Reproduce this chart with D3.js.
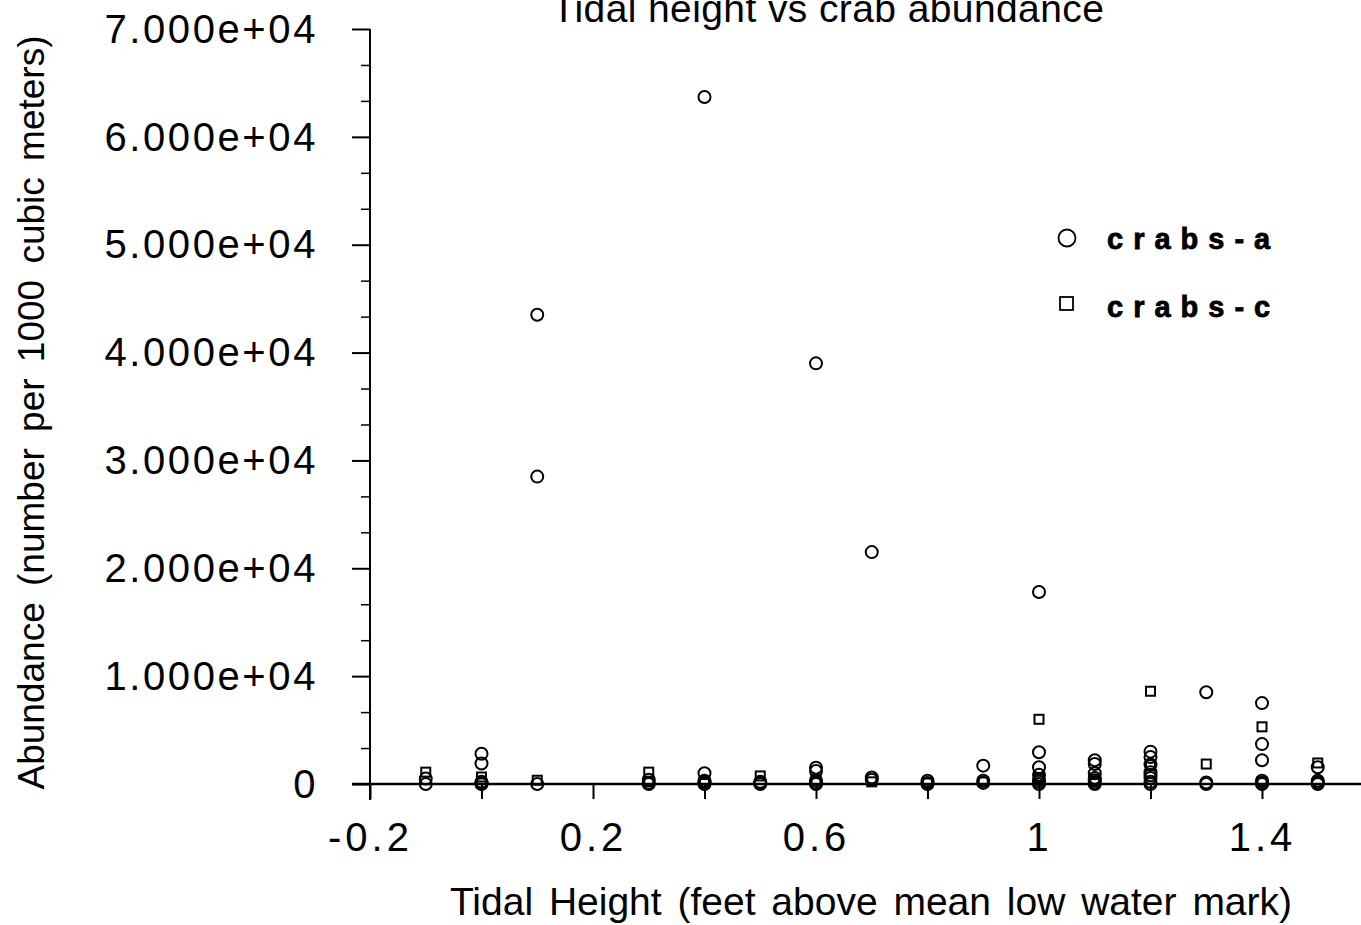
<!DOCTYPE html>
<html><head><meta charset="utf-8">
<script src="https://cdn.jsdelivr.net/npm/d3@7"></script>
<style>
html,body{margin:0;padding:0;background:#fff;}
svg{display:block;}
text{font-family:"Liberation Sans",Arial,Helvetica,sans-serif;fill:#000;}
</style></head>
<body>
<svg id="chart" width="1361" height="925"></svg>
<script>
// ---- data ----
const title = "Tidal height vs crab abundance";
const xTitle = "Tidal Height (feet above mean low water mark)";
const yTitle = "Abundance (number per 1000 cubic meters)";
const seriesNames = ["crabs-a", "crabs-c"];

const crabsAX = [-0.1,-0.1, 0,0,0,0,0,0, 0.1,0.1,0.1, 0.3,0.3,0.3, 0.4,0.4,0.4,0.4,0.4,0.4, 0.5,0.5,0.5,
  0.6,0.6,0.6,0.6,0.6,0.6, 0.7,0.7,0.7, 0.8,0.8,0.8, 0.9,0.9,0.9, 1,1,1,1,1,1,1, 1.1,1.1,1.1,1.1,1.1,1.1,1.1,
  1.2,1.2,1.2,1.2,1.2,1.2,1.2,1.2, 1.3,1.3,1.3, 1.4,1.4,1.4,1.4,1.4,1.4, 1.5,1.5,1.5,1.5];
const crabsAY = [500,0, 2800,1900,200,100,50,0, 43500,28500,0, 400,100,0, 63700,1000,300,200,100,0, 200,100,0,
  39000,1500,1200,300,100,0, 21500,600,400, 300,100,0, 1700,300,100, 17800,2950,1550,850,400,200,0, 2200,1850,1000,550,350,150,0,
  3000,2500,1800,1100,800,550,200,0, 8500,150,0, 7500,3700,2200,300,100,0, 1550,300,150,0];

const crabsCX = [-0.1, 0,0, 0.1, 0.3,0.3, 0.4, 0.5, 0.6, 0.7, 0.8, 0.9, 1,1, 1.1, 1.2,1.2, 1.3, 1.4,1.4, 1.5];
const crabsCY = [1100, 650,100, 350, 1100,200, 100, 750, 400, 200, 100, 200, 6000,600, 300, 8600,1800, 1850, 5300,200, 1950];

const yMajorTicks = [0,10000,20000,30000,40000,50000,60000,70000];
const xTicks = [-0.2,0,0.2,0.4,0.6,0.8,1,1.2,1.4];
const xLabelled = [-0.2,0.2,0.6,1,1.4];

// ---- layout ----
const W = 1361, H = 925;
const svg = d3.select("#chart");
const x = d3.scaleLinear().domain([-0.2, 1.6]).range([370, 370 + 1.8 * 557.5]);
const y = d3.scaleLinear().domain([0, 70000]).range([784, 29]);

// y minor ticks (thirds)
const yMinor = [];
yMajorTicks.slice(0,-1).forEach(v => { yMinor.push(v + 10000/3, v + 20000/3); });

const fmtY = v => {
  if (v === 0) return "0";
  const m = v / 10000;
  return m.toFixed(3) + "e+04";
};

// Axes lines
svg.append("line").attr("x1", x(-0.2) - 18).attr("x2", W).attr("y1", y(0)).attr("y2", y(0))
  .attr("stroke", "#000").attr("stroke-width", 2.5);
svg.append("line").attr("x1", x(-0.2)).attr("x2", x(-0.2)).attr("y1", y(70000)).attr("y2", y(0) + 16)
  .attr("stroke", "#000").attr("stroke-width", 2);

// y axis major
const gy = svg.append("g").attr("transform", `translate(${x(-0.2)},0)`)
  .call(d3.axisLeft(y).tickValues(yMajorTicks).tickSize(18).tickPadding(34).tickFormat(fmtY));
gy.select(".domain").remove();
gy.selectAll(".tick line").attr("stroke", "#000").attr("stroke-width", 2);
gy.selectAll(".tick text").attr("font-size", 40).attr("dy", "0.33em").attr("letter-spacing", "2.6px")
  .style("font-family", "'Liberation Sans', Arial, sans-serif");

// y axis minor
const gym = svg.append("g").attr("transform", `translate(${x(-0.2)},0)`)
  .call(d3.axisLeft(y).tickValues(yMinor).tickSize(9).tickFormat(""));
gym.select(".domain").remove();
gym.selectAll(".tick line").attr("stroke", "#000").attr("stroke-width", 1.5);

// x axis
const gx = svg.append("g").attr("transform", `translate(0,${y(0)})`)
  .call(d3.axisBottom(x).tickValues(xTicks).tickSize(15).tickPadding(24)
    .tickFormat(d => xLabelled.some(v => Math.abs(v - d) < 1e-9) ? String(+d.toFixed(1)) : ""));
gx.select(".domain").remove();
gx.selectAll(".tick line").attr("stroke", "#000").attr("stroke-width", 2);
gx.selectAll(".tick text").attr("font-size", 40).attr("letter-spacing", "4px")
  .style("font-family", "'Liberation Sans', Arial, sans-serif");

// points
const aData = crabsAX.map((xv, i) => ({x: xv, y: crabsAY[i]}));
const cData = crabsCX.map((xv, i) => ({x: xv, y: crabsCY[i]}));

svg.append("g").selectAll("rect").data(cData).join("rect")
  .attr("x", d => x(d.x) - 4.5).attr("y", d => y(d.y) - 4.5)
  .attr("width", 9).attr("height", 9)
  .attr("fill", "none").attr("stroke", "#000").attr("stroke-width", 2);

svg.append("g").selectAll("circle").data(aData).join("circle")
  .attr("cx", d => x(d.x)).attr("cy", d => y(d.y)).attr("r", 6)
  .attr("fill", "none").attr("stroke", "#000").attr("stroke-width", 2);

// titles
svg.append("text").attr("x", 828).attr("y", 22).attr("text-anchor", "middle")
  .attr("font-size", 39).attr("letter-spacing", "0.4px").text(title);
svg.append("text").attr("x", 871).attr("y", 915).attr("text-anchor", "middle")
  .attr("font-size", 39).attr("word-spacing", "5px").text(xTitle);
svg.append("text").attr("transform", `translate(44,${(785+40)/2}) rotate(-90)`)
  .attr("text-anchor", "middle").attr("font-size", 37).attr("word-spacing", "6px").text(yTitle);

// legend
const leg = svg.append("g");
leg.append("circle").attr("cx", 1067).attr("cy", 238).attr("r", 8.5)
  .attr("fill", "none").attr("stroke", "#000").attr("stroke-width", 1.8);
leg.append("rect").attr("x", 1060).attr("y", 297).attr("width", 13).attr("height", 13)
  .attr("fill", "none").attr("stroke", "#000").attr("stroke-width", 1.8);
leg.append("text").attr("x", 1107).attr("y", 249).attr("font-size", 29).attr("font-weight", "bold")
  .attr("stroke", "#000").attr("stroke-width", 0.8)
  .attr("letter-spacing", "10px").text(seriesNames[0]);
leg.append("text").attr("x", 1107).attr("y", 317).attr("font-size", 29).attr("font-weight", "bold")
  .attr("stroke", "#000").attr("stroke-width", 0.8)
  .attr("letter-spacing", "10px").text(seriesNames[1]);
</script>
</body></html>
